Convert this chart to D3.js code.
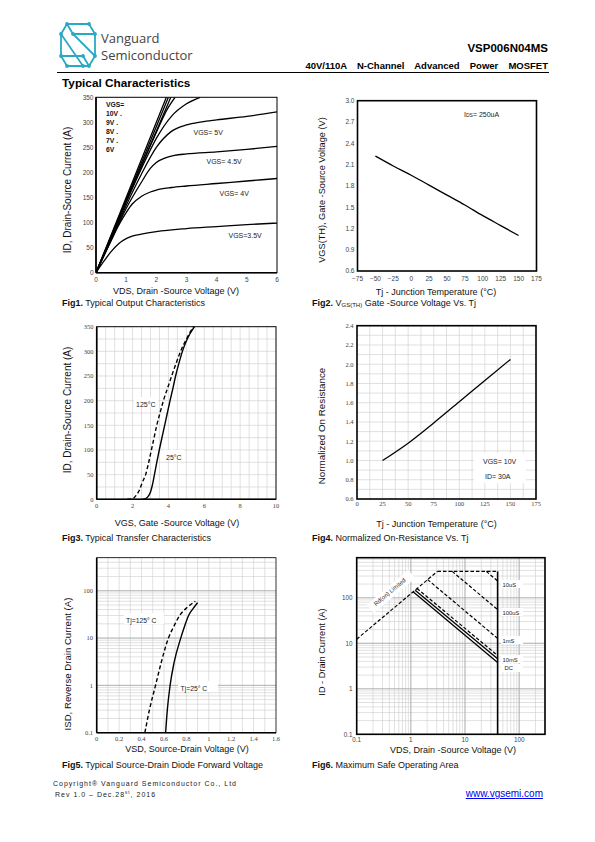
<!DOCTYPE html>
<html><head><meta charset="utf-8">
<script src="https://cdn.jsdelivr.net/npm/d3@7/dist/d3.min.js"></script>
<style>body{margin:0;background:#fff}svg{display:block}</style>
</head><body>
<svg id="page" width="595" height="842"></svg>
<script>
// ---------------- DATA ----------------
// Fig1: output characteristics [VDS, ID]
const f1_vgs10 = [[0,0],[1.2,180],[2.33,350]];
const f1_vgs9  = [[0,0],[1.2,175],[2.40,350]];
const f1_vgs8  = [[0,0],[1.2,170],[2.48,350]];
const f1_vgs7  = [[0,0],[1.0,143],[1.5,213],[2.0,280],[2.35,325],[2.62,350]];
const f1_vgs6  = [[0,0],[0.5,70],[1,140],[1.5,207],[2,268],[2.5,312],[3,337],[3.45,350]];
const f1_vgs5  = [[0,0],[0.5,66],[1,134],[1.5,196],[2,250],[2.5,282],[3,295],[3.5,301],[4,305],[5,312],[6,321]];
const f1_vgs45 = [[0,0],[0.5,64],[1,128],[1.5,180],[1.8,208],[2,220],[2.3,229],[2.6,234],[3,237],[4,241],[5,246],[6,252]];
const f1_vgs4  = [[0,0],[0.4,52],[0.8,100],[1.0,120],[1.2,137],[1.5,152],[1.8,161],[2,165],[2.5,170],[3,173],[4,178],[5,183],[6,188]];
const f1_vgs35 = [[0,0],[0.25,22],[0.5,42],[0.75,58],[1.0,68],[1.2,73],[1.5,77],[2,82],[3,88],[4,92],[5,96],[6,99]];
const f1_xTicks = [0,1,2,3,4,5,6];
const f1_yTicks = [0,50,100,150,200,250,300,350];

// Fig2: VGS(TH) vs Tj
const f2_tj  = [-50,-25,0,25,50,75,100,125,150];
const f2_vth = [2.22,2.08,1.95,1.81,1.67,1.53,1.38,1.24,1.10];
const f2_xTicks = [-75,-50,-25,0,25,50,75,100,125,150,175];
const f2_yTicks = [0.6,0.9,1.2,1.5,1.8,2.1,2.4,2.7,3.0];

// Fig3: transfer characteristics [VGS, ID]
const f3_t25  = [[2.55,0],[2.7,1],[2.85,5],[3.0,15],[3.1,28],[3.22,50],[3.35,75],[3.49,100],[3.64,125],[3.79,150],[3.94,175],[4.09,200],[4.25,225],[4.4,250],[4.58,275],[4.78,300],[5.05,325],[5.45,350]];
const f3_t125 = [[1.7,0],[2.0,1],[2.2,8],[2.4,20],[2.55,35],[2.73,50],[2.9,75],[3.05,100],[3.2,125],[3.35,150],[3.53,175],[3.72,200],[3.95,225],[4.18,250],[4.42,275],[4.68,300],[5.0,325],[5.39,350]];
const f3_xTicks = [0,2,4,6,8,10];
const f3_yTicks = [0,50,100,150,200,250,300,350];

// Fig4: normalized on-resistance vs Tj
const f4_tj = [25,50,75,100,125,150];
const f4_rn = [1.0,1.18,1.39,1.61,1.83,2.05];
const f4_xTicks = [0,25,50,75,100,125,150,175];
const f4_yTicks = [0.6,0.8,1.0,1.2,1.4,1.6,1.8,2.0,2.2,2.4];

// Fig5: source-drain diode forward voltage [VSD, ISD]
const f5_t25  = [[0.615,0.1],[0.63,0.3],[0.655,1],[0.69,3],[0.75,10],[0.785,18],[0.82,30],[0.86,42],[0.90,56]];
const f5_t125 = [[0.43,0.1],[0.47,0.3],[0.525,1],[0.575,3],[0.64,10],[0.69,18],[0.74,30],[0.81,45],[0.88,60]];
const f5_xTicks = [0,0.2,0.4,0.6,0.8,1,1.2,1.4,1.6];
const f5_yTicks = [0.1,1,10,100];

// Fig6: safe operating area [VDS, ID]
const f6_rds    = [[0.1,12.3],[3.1,380]];
const f6_top    = [[3.1,380],[40,380]];
const f6_10us   = [[24.7,380],[40,235]];
const f6_100us  = [[5.8,380],[40,55]];
const f6_1ms    = [[2.04,251],[40,12.8]];
const f6_10msD  = [[1.3,160],[40,5.4]];
const f6_10ms   = [[1.2,147],[40,4.6]];
const f6_dc     = [[1.1,136],[40,3.8]];
const f6_vmax   = [[40,380],[40,0.1]];
const f6_xTicks = [0.1,1,10,100];
const f6_yTicks = [0.1,1,10,100];

// ---------------- HELPERS ----------------
const svg = d3.select('#page');
const SANS = "'Liberation Sans', Arial, sans-serif";
const SERIF = "'Liberation Serif', 'Times New Roman', serif";

function txt(g, s, x, y, o={}) {
  const t = g.append('text').attr('x', x).attr('y', y).text(s)
    .attr('font-family', o.family || SANS).attr('font-size', o.size || 7)
    .attr('fill', o.fill || '#222').attr('text-anchor', o.anchor || 'start');
  if (o.weight) t.attr('font-weight', o.weight);
  if (o.rotate !== undefined) t.attr('transform', `rotate(${o.rotate},${x},${y})`);
  return t;
}
function box(g, x, y, w, h) {
  g.append('rect').attr('x', x).attr('y', y).attr('width', w).attr('height', h).attr('fill', '#fff');
}
function gridV(g, vals, xs, ys, col, w) {
  const [y0, y1] = ys.range();
  g.selectAll(null).data(vals).enter().append('line')
    .attr('x1', d => xs(d)).attr('x2', d => xs(d)).attr('y1', y0).attr('y2', y1)
    .attr('stroke', col).attr('stroke-width', w);
}
function gridH(g, vals, xs, ys, col, w) {
  const [x0, x1] = xs.range();
  g.selectAll(null).data(vals).enter().append('line')
    .attr('y1', d => ys(d)).attr('y2', d => ys(d)).attr('x1', x0).attr('x2', x1)
    .attr('stroke', col).attr('stroke-width', w);
}
function frame(g, xs, ys, w, wl) {
  const [x0, x1] = xs.range(), [y0, y1] = ys.range();
  g.append('rect').attr('x', x0).attr('y', y1).attr('width', x1 - x0).attr('height', y0 - y1)
    .attr('fill', 'none').attr('stroke', '#000').attr('stroke-width', w);
  if (wl) {
    g.append('line').attr('x1', x0).attr('x2', x0).attr('y1', y1).attr('y2', y0).attr('stroke', '#000').attr('stroke-width', wl);
    g.append('line').attr('x1', x0).attr('x2', x1).attr('y1', y0).attr('y2', y0).attr('stroke', '#000').attr('stroke-width', wl);
  }
}
function ticksX(g, vals, xs, y, fmt, o) {
  vals.forEach(v => txt(g, fmt(v), xs(v), y, Object.assign({anchor: 'middle'}, o)));
}
function ticksY(g, vals, ys, x, fmt, o) {
  vals.forEach(v => txt(g, fmt(v), x, ys(v) + 2.4, Object.assign({anchor: 'end'}, o)));
}
function curve(g, data, xs, ys, o={}) {
  const ln = d3.line().x(d => xs(d[0])).y(d => ys(d[1])).curve(o.curve || d3.curveMonotoneX);
  const p = g.append('path').attr('d', ln(data)).attr('fill', 'none')
    .attr('stroke', '#000').attr('stroke-width', o.w || 1.4);
  if (o.dash) p.attr('stroke-dasharray', o.dash);
  return p;
}
function caption(g, bold, rest, x, y) {
  const t = g.append('text').attr('x', x).attr('y', y).attr('font-family', SANS).attr('font-size', 9).attr('fill', '#111');
  t.append('tspan').attr('font-weight', 'bold').text(bold);
  t.append('tspan').text(rest);
  return t;
}
function logMinor(lo, hi) {
  const out = [];
  for (let e = Math.floor(Math.log10(lo)); e <= Math.ceil(Math.log10(hi)); e++) {
    for (let m = 1; m < 10; m++) {
      const v = m * Math.pow(10, e);
      if (v >= lo * 0.999 && v <= hi * 1.001) out.push(v);
    }
  }
  return out;
}
const YT = (g, s, x, y, size) => txt(g, s, x, y, {size: size, rotate: -90, anchor: 'middle', fill: '#111'});
const XT = (g, s, x, y) => txt(g, s, x, y, {size: 9, anchor: 'middle', fill: '#111'});

// ---------------- HEADER ----------------
const hdr = svg.append('g');
const logo = hdr.append('g').attr('transform', 'translate(61,24)');
const teal = '#2aa9c3';
["M6,0H28L34,10H12Z", "M6,0L0,10V32L6,42", "M0,10L22,42", "M12,10L34,32", "M34,10V32L28,42H6", "M0,32H22L28,42"]
  .forEach(d => logo.append('path').attr('d', d).attr('fill', 'none').attr('stroke', teal).attr('stroke-width', 1.8).attr('stroke-linejoin', 'round'));
[[6,0],[28,0],[0,10],[34,10],[12,10],[0,32],[22,42],[34,32],[6,42],[28,42],[22,32]]
  .forEach(p => logo.append('circle').attr('cx', p[0]).attr('cy', p[1]).attr('r', 1.9).attr('fill', teal));
txt(hdr, 'Vanguard', 101, 43, {family: "'Open Sans', sans-serif", size: 13, fill: '#444'});
txt(hdr, 'Semiconductor', 101, 60, {family: "'Open Sans', sans-serif", size: 13, fill: '#444'});
txt(hdr, 'VSP006N04MS', 548, 52, {size: 11.5, weight: 'bold', anchor: 'end', fill: '#000'});
txt(hdr, '40V/110A N-Channel Advanced Power MOSFET', 548, 69, {size: 9.5, weight: 'bold', anchor: 'end', fill: '#000'})
  .attr('word-spacing', 7.5);
hdr.append('line').attr('x1', 57).attr('x2', 549).attr('y1', 72.5).attr('y2', 72.5).attr('stroke', '#000').attr('stroke-width', 1);
txt(hdr, 'Typical Characteristics', 62, 87, {size: 11.8, weight: 'bold', fill: '#000'});

// ---------------- FIG 1 ----------------
{
  const g = svg.append('g');
  const xs = d3.scaleLinear().domain([0, 6]).range([96, 277]);
  const ys = d3.scaleLinear().domain([0, 350]).range([272.7, 97.3]);
  g.append('clipPath').attr('id', 'c1').append('rect')
    .attr('x', 96).attr('y', 97.3).attr('width', 181).attr('height', 175.4);
  const cg = g.append('g').attr('clip-path', 'url(#c1)');
  [f1_vgs10, f1_vgs9, f1_vgs8, f1_vgs7, f1_vgs6, f1_vgs5, f1_vgs45, f1_vgs4, f1_vgs35]
    .forEach(s => curve(cg, s, xs, ys, {w: 1.3}));
  frame(g, xs, ys, 1, 1.6);
  ticksX(g, f1_xTicks, xs, 282, d3.format('d'), {size: 6.5, fill: '#444'});
  ticksY(g, f1_yTicks, ys, 93.5, d3.format('d'), {size: 6.5, fill: '#444'});
  const lab = {size: 6.8, weight: 'bold', fill: '#111'};
  ['VGS=', '10V .', '9V .', '8V .', '7V .', '6V'].forEach((s, i) => txt(g, s, 106, 107 + i * 9, lab));
  const l2 = {size: 7, fill: '#222'};
  txt(g, 'VGS= 5V', 193.5, 135, l2);
  txt(g, 'VGS=  4.5V', 206.5, 163.5, l2);
  txt(g, 'VGS=  4V', 219.5, 196, l2);
  txt(g, 'VGS=3.5V', 228.5, 238, l2);
  YT(g, 'ID, Drain-Source Current (A)', 71, 190, 10);
  XT(g, 'VDS, Drain -Source Voltage (V)', 176, 293.5);
  caption(g, 'Fig1.', ' Typical Output Characteristics', 62, 306);
}

// ---------------- FIG 2 ----------------
{
  const g = svg.append('g');
  const xs = d3.scaleLinear().domain([-75, 175]).range([357.5, 536.5]);
  const ys = d3.scaleLinear().domain([0.6, 3.0]).range([271, 100.7]);
  curve(g, f2_tj.map((t, i) => [t, f2_vth[i]]), xs, ys, {w: 1.3});
  frame(g, xs, ys, 1.6);
  ticksX(g, f2_xTicks, xs, 281, d3.format('d'), {size: 6.5, fill: '#444'});
  ticksY(g, f2_yTicks, ys, 354.5, d3.format('.1f'), {size: 6.5, fill: '#444'});
  const t = g.append('text').attr('x', 464).attr('y', 117).attr('font-family', SANS).attr('font-size', 7).attr('fill', '#222');
  t.append('tspan').text('I');
  t.append('tspan').attr('font-size', 5).text('DS');
  t.append('tspan').text('=  250uA');
  YT(g, 'VGS(TH), Gate -Source Voltage (V)', 325, 190, 9.2);
  XT(g, 'Tj - Junction Temperature (°C)', 436, 295);
  const c = caption(g, 'Fig2.', ' V', 312, 306);
  c.append('tspan').attr('font-size', 6).attr('dy', 1).text('GS(TH)');
  c.append('tspan').attr('dy', -1).text(' Gate -Source Voltage Vs. Tj');
}

// ---------------- FIG 3 ----------------
{
  const g = svg.append('g');
  const xs = d3.scaleLinear().domain([0, 10]).range([96.7, 276]);
  const ys = d3.scaleLinear().domain([0, 350]).range([499.3, 326.7]);
  gridV(g, d3.range(0.5, 10, 0.5), xs, ys, '#d2d2d2', 0.7);
  gridH(g, d3.range(25, 350, 25), xs, ys, '#d2d2d2', 0.7);
  box(g, 134, 397, 24, 10);
  box(g, 164, 450, 20, 10);
  curve(g, f3_t25, xs, ys, {w: 1.4});
  curve(g, f3_t125, xs, ys, {w: 1.4, dash: '4,2.5'});
  frame(g, xs, ys, 1, 1.6);
  ticksX(g, f3_xTicks, xs, 508, d3.format('d'), {size: 6.5, fill: '#444', family: SERIF});
  ticksY(g, f3_yTicks, ys, 93.5, d3.format('d'), {size: 6.5, fill: '#444', family: SERIF});
  txt(g, '125°C', 136, 406.5, {size: 7});
  txt(g, '25°C', 166, 459.5, {size: 7});
  YT(g, 'ID, Drain-Source Current (A)', 71, 410, 10);
  XT(g, 'VGS, Gate -Source Voltage (V)', 177, 526);
  caption(g, 'Fig3.', ' Typical Transfer Characteristics', 62, 541);
}

// ---------------- FIG 4 ----------------
{
  const g = svg.append('g');
  const xs = d3.scaleLinear().domain([0, 175]).range([357, 536]);
  const ys = d3.scaleLinear().domain([0.6, 2.4]).range([499, 325.7]);
  gridV(g, d3.range(12.5, 175, 12.5), xs, ys, '#d2d2d2', 0.7);
  gridH(g, d3.range(0.7, 2.39, 0.1), xs, ys, '#d2d2d2', 0.7);
  box(g, 474, 453, 52, 30);
  curve(g, f4_tj.map((t, i) => [t, f4_rn[i]]), xs, ys, {w: 1.3});
  frame(g, xs, ys, 1.6);
  ticksX(g, f4_xTicks, xs, 506, d3.format('d'), {size: 6.5, fill: '#444', family: SERIF});
  ticksY(g, f4_yTicks, ys, 353.5, d3.format('.1f'), {size: 6.5, fill: '#444', family: SERIF});
  txt(g, 'VGS= 10V', 483, 463.5, {size: 7});
  txt(g, 'ID= 30A', 485, 479, {size: 7});
  YT(g, 'Normalized On Resistance', 325, 426, 9.8);
  XT(g, 'Tj - Junction Temperature (°C)', 436.5, 527);
  caption(g, 'Fig4.', ' Normalized On-Resistance Vs. Tj', 312, 541);
}

// ---------------- FIG 5 ----------------
{
  const g = svg.append('g');
  const xs = d3.scaleLinear().domain([0, 1.6]).range([96.7, 276]);
  const ys = d3.scaleLog().domain([0.1, 500]).range([732.7, 557.7]);
  gridV(g, d3.range(0.1, 1.6, 0.1), xs, ys, '#cccccc', 0.6);
  gridH(g, logMinor(0.1, 500), xs, ys, '#cccccc', 0.6);
  gridH(g, [1, 10, 100], xs, ys, '#aaaaaa', 0.8);
  box(g, 124, 613, 40, 11);
  box(g, 178, 681, 40, 11);
  curve(g, f5_t25, xs, ys, {w: 1.4});
  curve(g, f5_t125, xs, ys, {w: 1.4, dash: '4,2.5'});
  frame(g, xs, ys, 0.8, 1.6);
  ticksX(g, f5_xTicks, xs, 741, d => d === 0 ? '0' : d3.format('~g')(d), {size: 6.5, fill: '#444', family: SERIF});
  ticksY(g, f5_yTicks, ys, 93, d3.format('~g'), {size: 6.5, fill: '#444', family: SERIF});
  txt(g, 'Tj=125° C', 126, 622.5, {size: 6.8});
  txt(g, 'Tj=25° C', 180.5, 690.5, {size: 6.8});
  YT(g, 'ISD, Reverse Drain Current (A)', 71, 664, 9.6);
  XT(g, 'VSD, Source-Drain Voltage (V)', 187, 752);
  caption(g, 'Fig5.', ' Typical Source-Drain Diode Forward Voltage', 62, 768);
}

// ---------------- FIG 6 ----------------
{
  const g = svg.append('g');
  const xs = d3.scaleLog().domain([0.1, 300]).range([356.7, 545]);
  const ys = d3.scaleLog().domain([0.1, 760]).range([734.3, 557.7]);
  gridV(g, logMinor(0.1, 300), xs, ys, '#cccccc', 0.6);
  gridH(g, logMinor(0.1, 760), xs, ys, '#cccccc', 0.6);
  gridV(g, [1, 10, 100], xs, ys, '#aaaaaa', 0.8);
  gridH(g, [1, 10, 100], xs, ys, '#aaaaaa', 0.8);
  const cx = 391, cy = 591.5;
  g.append('rect').attr('x', cx - 27).attr('y', cy - 5.5).attr('width', 54).attr('height', 11)
    .attr('fill', '#fff').attr('transform', `rotate(-40,${cx},${cy})`);
  [[501, 580], [501, 608], [501, 636], [501, 655], [501, 664]].forEach(p => box(g, p[0], p[1], 22, 8));
  const L = {curve: d3.curveLinear, w: 1.2, dash: '3.5,2'};
  curve(g, f6_rds, xs, ys, L);
  curve(g, f6_top, xs, ys, L);
  curve(g, f6_10us, xs, ys, L);
  curve(g, f6_100us, xs, ys, L);
  curve(g, f6_1ms, xs, ys, L);
  curve(g, f6_10msD, xs, ys, L);
  curve(g, f6_10ms, xs, ys, {curve: d3.curveLinear, w: 1.3});
  curve(g, f6_dc, xs, ys, {curve: d3.curveLinear, w: 1.3});
  curve(g, f6_vmax, xs, ys, {curve: d3.curveLinear, w: 1.6});
  frame(g, xs, ys, 1.6);
  ticksX(g, f6_xTicks, xs, 741.5, d3.format('~g'), {size: 6.3, fill: '#444'});
  ticksY(g, f6_yTicks, ys, 352.5, d3.format('~g'), {size: 6.3, fill: '#444'});
  txt(g, 'Rd(on) Limited', cx, cy + 2, {size: 6, anchor: 'middle', rotate: -40, fill: '#333'});
  const s = {size: 5.8, fill: '#222'};
  txt(g, '10uS', 502.5, 586.5, s);
  txt(g, '100uS', 502.5, 614.5, s);
  txt(g, '1mS', 502.5, 642.5, s);
  txt(g, '10mS', 502.5, 661.5, s);
  txt(g, 'DC', 504.5, 670, s);
  YT(g, 'ID - Drain Current (A)', 325, 652, 9.2);
  XT(g, 'VDS, Drain -Source Voltage (V)', 453, 753);
  caption(g, 'Fig6.', ' Maximum Safe Operating Area', 312, 768);
}

// ---------------- FOOTER ----------------
{
  const g = svg.append('g');
  txt(g, 'Copyright® Vanguard Semiconductor Co., Ltd', 53, 786, {size: 7, fill: '#222'}).attr('letter-spacing', 1.0);
  const r = g.append('text').attr('x', 55).attr('y', 797).attr('font-family', SANS).attr('font-size', 7)
    .attr('fill', '#222').attr('letter-spacing', 1.0);
  r.append('tspan').text('Rev 1.0 – Dec.28');
  r.append('tspan').attr('font-size', 4.5).attr('dy', -2.8).text('st');
  r.append('tspan').attr('dy', 2.8).text(', 2016');
  txt(g, 'www.vgsemi.com', 543, 797, {size: 10, fill: '#0000ee', anchor: 'end'}).attr('text-decoration', 'underline');
}
</script>
</body></html>
